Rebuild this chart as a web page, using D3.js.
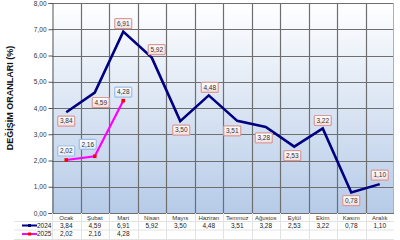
<!DOCTYPE html>
<html>
<head>
<meta charset="utf-8">
<script src="https://cdn.jsdelivr.net/npm/d3@7"></script>
<style>
  html, body { margin: 0; padding: 0; background: #fff; }
  svg { display: block; font-family: "Liberation Sans", Arial, sans-serif; }
</style>
</head>
<body>
<svg id="chart" width="400" height="240"></svg>
<script>
// data
const months = ["Ocak", "Şubat", "Mart", "Nisan", "Mayıs", "Haziran", "Temmuz", "Ağustos", "Eylül", "Ekim", "Kasım", "Aralık"];
const values2024 = [3.84, 4.59, 6.91, 5.92, 3.50, 4.48, 3.51, 3.28, 2.53, 3.22, 0.78, 1.10];
const values2025 = [2.02, 2.16, 4.28];
const yTicks = [0, 1, 2, 3, 4, 5, 6, 7, 8];

// where each value box sits relative to its point
const off2024 = [[0, 9], [6, 10], [0, -8], [5, -8], [1, 9], [1, -8], [-5, 10], [-2, 11], [-2, 9], [0, -8], [0, 8], [0, -9]];
const off2025 = [[0, -9], [-7, -12], [0, -8.5]];

const svg = d3.select("#chart");
const pLeft = 52, pRight = 394, pTop = 3, pBottom = 213;

const x = d3.scaleBand().domain(months).range([pLeft, pRight]);
const y = d3.scaleLinear().domain([0, 8]).range([pBottom, pTop]);
const fmt = v => d3.format(".2f")(v).replace(".", ",");
const cx = m => x(m) + x.bandwidth() / 2;

const defs = svg.append("defs");
const bg = defs.append("linearGradient").attr("id", "bg").attr("x1", 0).attr("y1", 0).attr("x2", 0).attr("y2", 1);
bg.append("stop").attr("offset", "0%").attr("stop-color", "#ffffff");
bg.append("stop").attr("offset", "100%").attr("stop-color", "#b6cbe8");

const pinkFill = defs.append("linearGradient").attr("id", "pinkFill").attr("x1", 0).attr("y1", 0).attr("x2", 0).attr("y2", 1);
pinkFill.append("stop").attr("offset", "0%").attr("stop-color", "#ffffff");
pinkFill.append("stop").attr("offset", "100%").attr("stop-color", "#f4dede");
const blueFill = defs.append("linearGradient").attr("id", "blueFill").attr("x1", 0).attr("y1", 0).attr("x2", 0).attr("y2", 1);
blueFill.append("stop").attr("offset", "0%").attr("stop-color", "#ffffff");
blueFill.append("stop").attr("offset", "100%").attr("stop-color", "#dfe8f6");

// plot background
svg.append("rect")
    .attr("x", pLeft).attr("y", pTop)
    .attr("width", pRight - pLeft).attr("height", pBottom - pTop)
    .attr("fill", "url(#bg)");

// grid
svg.append("g").selectAll("line")
    .data(yTicks)
    .join("line")
    .attr("x1", pLeft).attr("x2", pRight)
    .attr("y1", d => Math.round(y(d)) + 0.5).attr("y2", d => Math.round(y(d)) + 0.5)
    .attr("stroke", "#6e6e6e").attr("stroke-width", 1.2);

svg.append("g").selectAll("line")
    .data(months.slice(1))
    .join("line")
    .attr("x1", d => Math.round(x(d)) + 0.5).attr("x2", d => Math.round(x(d)) + 0.5)
    .attr("y1", pTop).attr("y2", pBottom)
    .attr("stroke", "#6e6e6e").attr("stroke-width", 1.2);

svg.append("line")
    .attr("x1", pRight - 0.5).attr("x2", pRight - 0.5).attr("y1", pTop).attr("y2", pBottom)
    .attr("stroke", "#b0b0b0");

// y axis
const yAxis = svg.append("g")
    .attr("transform", `translate(${pLeft + 0.5},0)`)
    .call(d3.axisLeft(y).tickValues(yTicks).tickFormat(fmt).tickSize(4).tickPadding(2));
yAxis.select(".domain").attr("stroke", "#555");
yAxis.selectAll(".tick line").attr("stroke", "#555");
yAxis.selectAll("text").attr("font-size", 6.5).attr("fill", "#333");

svg.append("text")
    .attr("transform", "translate(13,98) rotate(-90)")
    .attr("text-anchor", "middle")
    .attr("font-size", 9).attr("font-weight", "bold").attr("fill", "#111")
    .text("DEĞİŞİM ORANLARI (%)");

// data table under the plot
const rowY = [217.5, 225.5, 234];
const table = svg.append("g");
table.selectAll("line.h")
    .data([221, 229.5, 239])
    .join("line")
    .attr("class", "h")
    .attr("x1", 14).attr("x2", pRight)
    .attr("y1", d => d + 0.5).attr("y2", d => d + 0.5)
    .attr("stroke", "#e2e2e2");
table.selectAll("line.v")
    .data(months)
    .join("line")
    .attr("class", "v")
    .attr("x1", d => Math.round(x(d)) + 0.5).attr("x2", d => Math.round(x(d)) + 0.5)
    .attr("y1", pBottom).attr("y2", 240)
    .attr("stroke", "#e2e2e2");

table.selectAll("text.m")
    .data(months)
    .join("text")
    .attr("class", "m")
    .attr("x", cx).attr("y", rowY[0])
    .attr("dy", "0.35em")
    .attr("text-anchor", "middle")
    .attr("font-size", 6).attr("fill", "#333")
    .text(d => d);

table.selectAll("text.a")
    .data(values2024)
    .join("text")
    .attr("class", "a")
    .attr("x", (d, i) => cx(months[i])).attr("y", rowY[1])
    .attr("dy", "0.35em")
    .attr("text-anchor", "middle")
    .attr("font-size", 6.5).attr("fill", "#222")
    .text(fmt);

table.selectAll("text.b")
    .data(values2025)
    .join("text")
    .attr("class", "b")
    .attr("x", (d, i) => cx(months[i])).attr("y", rowY[2])
    .attr("dy", "0.35em")
    .attr("text-anchor", "middle")
    .attr("font-size", 6.5).attr("fill", "#222")
    .text(fmt);

// legend keys inside the table
const keys = [
    { name: "2024", color: "#000080", marker: "#000080", y: rowY[1] },
    { name: "2025", color: "#ff00ff", marker: "#ff0000", y: rowY[2] }
];
keys.forEach(k => {
    svg.append("line")
        .attr("x1", 22).attr("x2", 37).attr("y1", k.y).attr("y2", k.y)
        .attr("stroke", k.color).attr("stroke-width", 2);
    svg.append("rect")
        .attr("x", 28).attr("y", k.y - 1.5).attr("width", 3).attr("height", 3)
        .attr("fill", k.marker);
    svg.append("text")
        .attr("x", 37).attr("y", k.y).attr("dy", "0.35em")
        .attr("font-size", 6.5).attr("fill", "#222")
        .text(k.name);
});

// lines
const line = d3.line()
    .x((d, i) => cx(months[i]))
    .y(d => y(d));

svg.append("path")
    .datum(values2024)
    .attr("d", line)
    .attr("fill", "none")
    .attr("stroke", "#000080")
    .attr("stroke-width", 2.6)
    .attr("stroke-linejoin", "miter");

svg.append("path")
    .datum(values2025)
    .attr("d", line)
    .attr("fill", "none")
    .attr("stroke", "#ff00ff")
    .attr("stroke-width", 2.2);

svg.append("g").selectAll("rect")
    .data(values2025)
    .join("rect")
    .attr("x", (d, i) => cx(months[i]) - 1.8)
    .attr("y", d => y(d) - 1.8)
    .attr("width", 3.6).attr("height", 3.6)
    .attr("fill", "#ff0000");

// value boxes
function labels(values, offs, fill, stroke) {
    const g = svg.append("g").selectAll("g")
        .data(values)
        .join("g")
        .attr("transform", (d, i) => `translate(${cx(months[i]) + offs[i][0]},${y(d) + offs[i][1]})`);
    g.append("rect")
        .attr("x", -8.5).attr("y", -5)
        .attr("width", 17).attr("height", 10)
        .attr("rx", 1)
        .attr("fill", fill)
        .attr("stroke", stroke).attr("stroke-width", 1.2);
    g.append("text")
        .attr("text-anchor", "middle")
        .attr("dy", "0.35em")
        .attr("font-size", 6.5).attr("fill", "#333")
        .text(fmt);
}
labels(values2024, off2024, "url(#pinkFill)", "#d99a9a");
labels(values2025, off2025, "url(#blueFill)", "#9dbde8");
</script>
</body>
</html>
